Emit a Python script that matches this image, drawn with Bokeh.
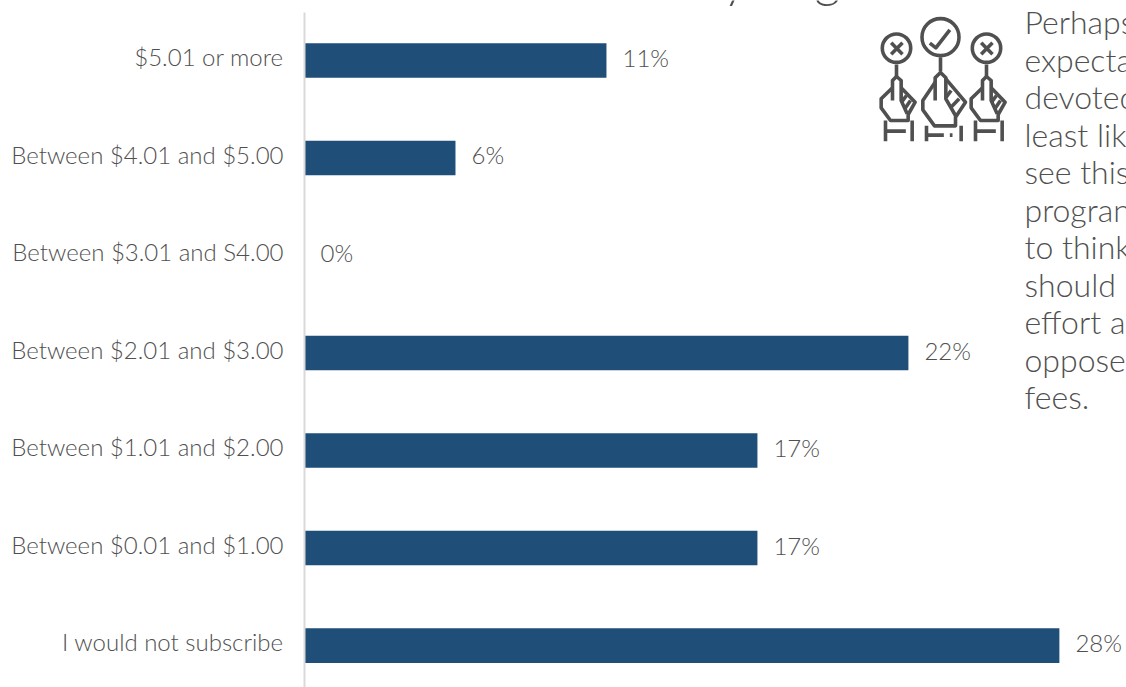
from bokeh.plotting import figure
from bokeh.models import Range1d, FixedTicker, ColumnDataSource
from bokeh.core.properties import value
from bokeh.embed import file_html
from bokeh.resources import INLINE

categories = ["$5.01 or more", "Between $4.01 and $5.00", "Between $3.01 and S4.00",
              "Between $2.01 and $3.00", "Between $1.01 and $2.00", "Between $0.01 and $1.00",
              "I would not subscribe"]
values = [11.0, 5.5, 0.0, 22.0, 16.5, 16.5, 27.5]
labels = ["11%", "6%", "0%", "22%", "17%", "17%", "28%"]
side_text = ["Perhaps", "expecta", "devoted", "least lik", "see this", "progran", "to think",
             "should", "effort a", "oppose", "fees."]

FONT = "Lato Light"
TXT = "#505050"
BAR = "#1f4e79"
ICON = "#505050"

p = figure(width=1126, height=687, output_backend="svg", toolbar_location=None,
           x_range=Range1d(-0.146, 29.945), y_range=Range1d(6.43, -0.615),
           min_border_left=300, min_border_right=0, min_border_top=0, min_border_bottom=0,
           outline_line_color=None, background_fill_color="white", border_fill_color="white")
p.grid.visible = False
p.xaxis.visible = False
ya = p.yaxis[0]
tick_pos = [round(i - 0.04, 2) for i in range(len(categories))]
ya.ticker = FixedTicker(ticks=tick_pos)
ya.major_label_overrides = {t: c for t, c in zip(tick_pos, categories)}
ya.major_label_text_font = FONT
ya.major_label_text_font_size = "24px"
ya.major_label_text_color = TXT
ya.major_label_standoff = 11
ya.major_tick_line_color = None
ya.minor_tick_line_color = None
ya.axis_line_color = None

src = ColumnDataSource(dict(y=list(range(len(values))), v=values, t=labels))
p.hbar(y="y", right="v", left=0, height=0.355, fill_color=BAR, line_color=None, source=src)
p.text(x="v", y="y", text="t", source=src, x_offset=16, y_offset=-3, text_align="left", text_baseline="middle",
       text_font=value(FONT), text_font_size=value("24px"), text_color=TXT)

# page-pixel coordinate system for the decorative icon, side text and axis line
p.extra_x_ranges["px"] = Range1d(300, 1126)
p.extra_y_ranges["px"] = Range1d(687, 0)
PX = dict(x_range_name="px", y_range_name="px")

p.line([304, 304], [12, 687], line_color="#d9d9d9", line_width=2, **PX)

# fragments of the cropped title above the plot
p.text(x=[722, 814], y=[-23, -23], text=["y", "g"], text_align="left", text_baseline="alphabetic",
       text_font=value(FONT), text_font_size=value("50px"), text_color=TXT, **PX)

p.text(x=[1024] * len(side_text), y=[21 + 37.5 * i for i in range(len(side_text))], text=side_text,
       text_align="left", text_baseline="alphabetic", text_font=value(FONT),
       text_font_size=value("32px"), text_color=TXT, **PX)

def Z(points):
    return [860 + a / 3 for a, b in points], [b / 3 for a, b in points]

def circ(cx, cy, r):
    p.circle(x=[860 + cx / 3], y=[cy / 3], radius=r, fill_color=None, line_color=ICON, line_width=3.6, **PX)

def path(points):
    xs, ys = Z(points)
    p.line(xs, ys, line_color=ICON, line_width=3.6, line_join="round", **PX)

circ(108, 143, 14.2)
circ(240, 110, 18.5)
circ(378, 143, 14.2)
path([(92, 127), (126, 161)]); path([(126, 127), (92, 161)])
path([(362, 127), (396, 161)]); path([(396, 127), (362, 161)])
path([(208, 128), (226, 142), (268, 88)])

def small_hand(o):
    f = lambda a: o + a
    path([(f(0), 192), (f(0), 228)])
    path([(f(-12), 300), (f(-12), 240), (f(0), 228), (f(14), 240), (f(14), 300), (f(32), 340)])
    path([(f(-12), 262), (f(-46), 295), (f(-46), 322), (f(-18), 360), (f(35), 360), (f(35), 342), (f(56), 305), (f(14), 262)])
    path([(f(30), 285), (f(15), 305)]); path([(f(42), 300), (f(25), 325)])
    path([(f(-33), 360), (f(-33), 422)]); path([(f(47), 360), (f(47), 422)])
    path([(f(-33), 392), (f(28), 392)])

small_hand(108)
small_hand(378)

path([(240, 170), (240, 212)])
path([(224, 300), (224, 232), (240, 216), (256, 232), (256, 295), (285, 345)])
path([(224, 245), (187, 300), (187, 328), (222, 376), (285, 376), (285, 350), (315, 305), (256, 235)])
path([(272, 270), (257, 290)]); path([(296, 295), (270, 322)])
path([(198, 376), (198, 422)]); path([(302, 376), (302, 422)])
path([(198, 404), (250, 404)]); path([(268, 404), (276, 404)])

open("out.html", "w").write(file_html(p, INLINE))
